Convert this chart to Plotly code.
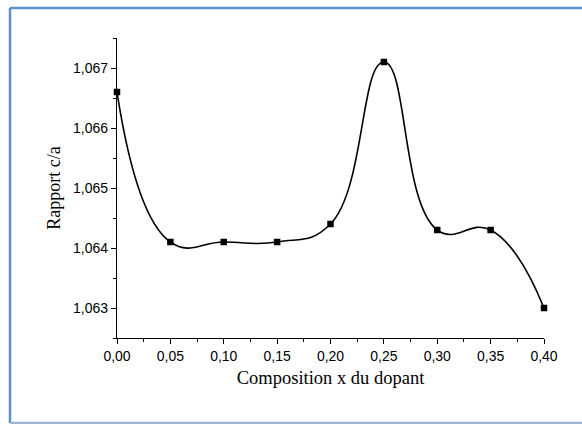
import plotly.graph_objects as go

composition = [0.00, 0.05, 0.10, 0.15, 0.20, 0.25, 0.30, 0.35, 0.40]
rapport_ca = [1.0666, 1.0641, 1.0641, 1.0641, 1.0644, 1.0671, 1.0643, 1.0643, 1.0630]
x_ticks = [0.00, 0.05, 0.10, 0.15, 0.20, 0.25, 0.30, 0.35, 0.40]
x_tick_labels = ["0,00", "0,05", "0,10", "0,15", "0,20", "0,25", "0,30", "0,35", "0,40"]
y_ticks = [1.063, 1.064, 1.065, 1.066, 1.067]
y_tick_labels = ["1,063", "1,064", "1,065", "1,066", "1,067"]

fig = go.Figure()
fig.add_trace(go.Scatter(
    x=composition, y=rapport_ca, mode="lines",
    line=dict(color="black", width=1.6, shape="spline", smoothing=1.3),
    hoverinfo="skip", showlegend=False))
fig.add_trace(go.Scatter(
    x=composition, y=rapport_ca, mode="markers",
    marker=dict(symbol="square", size=6.5, color="black"),
    showlegend=False, cliponaxis=False))

frame_color = "#5B8FD0"
fig.update_layout(
    width=582, height=424,
    margin=dict(l=117, r=38, t=38, b=86),
    paper_bgcolor="white", plot_bgcolor="white",
    font=dict(family="Liberation Sans, Arial", size=14, color="black"),
    shapes=[
        dict(type="line", xref="paper", yref="paper", x0=-0.2506, x1=1.089, y0=1.1, y1=1.1,
             line=dict(color=frame_color, width=2.5), layer="below"),
        dict(type="line", xref="paper", yref="paper", x0=-0.2506, x1=-0.2506, y0=1.1, y1=-0.283,
             line=dict(color=frame_color, width=2.5), layer="below"),
        dict(type="line", xref="paper", yref="paper", x0=-0.2506, x1=1.089, y0=-0.283, y1=-0.283,
             line=dict(color="#9DB5D4", width=2.5), layer="below"),
    ],
)
fig.update_xaxes(
    range=[0, 0.40], tickvals=x_ticks, ticktext=x_tick_labels,
    showline=True, linecolor="black", linewidth=1.2,
    ticks="outside", ticklen=5, tickwidth=1.2, tickcolor="black",
    minor=dict(dtick=0.025, tick0=0.025, ticks="outside", ticklen=3, tickwidth=1, tickcolor="black"),
    showgrid=False, zeroline=False, mirror=False,
    tickfont=dict(family="Liberation Sans, Arial", size=14),
    title=dict(text="Composition x du dopant",
               font=dict(family="Liberation Serif, Times New Roman", size=18.5), standoff=8),
)
fig.update_yaxes(
    range=[1.0625, 1.0675], tickvals=y_ticks, ticktext=y_tick_labels,
    showline=True, linecolor="black", linewidth=1.2,
    ticks="outside", ticklen=5, tickwidth=1.2, tickcolor="black",
    minor=dict(dtick=0.001, tick0=1.0625, ticks="outside", ticklen=3, tickwidth=1, tickcolor="black"),
    showgrid=False, zeroline=False, mirror=False,
    tickfont=dict(family="Liberation Sans, Arial", size=14),
    title=dict(text="Rapport c/a",
               font=dict(family="Liberation Serif, Times New Roman", size=18), standoff=7),
)

fig.write_html("out.html")
